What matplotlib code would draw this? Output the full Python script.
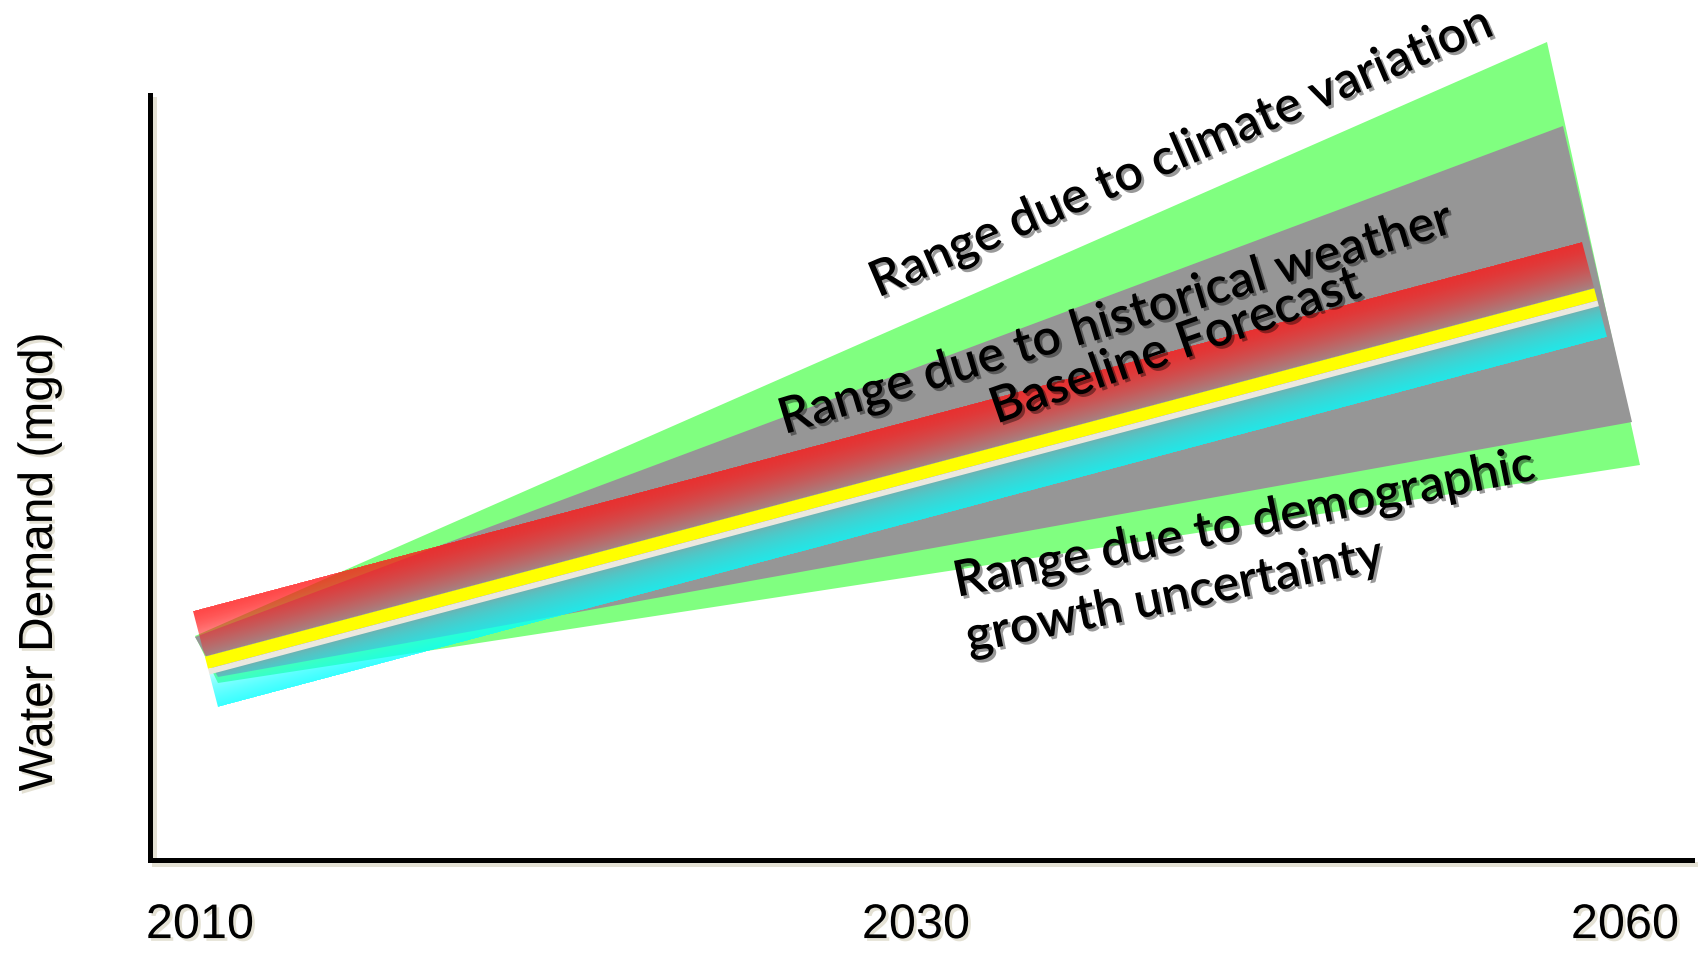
import numpy as np
import matplotlib
matplotlib.use("Agg")
import matplotlib.pyplot as plt
import matplotlib.patheffects as pe
from matplotlib.patches import Polygon

# Canvas units: one unit per output pixel, y grows downward.
TICK_POS = [200, 916, 1625]
TICK_LABELS = ["2010", "2030", "2060"]
Y_LABEL = "Water Demand (mgd)"

# climate variation fan (green): corners from top-left, clockwise
CLIMATE_X = [195, 1547, 1640, 218]
CLIMATE_Y = [636, 42, 465, 683]
# historical weather fan (gray)
WEATHER_X = [195, 1563, 1632, 218]
WEATHER_Y = [637, 126, 422, 677]

# baseline forecast band: upper edge, centre line, lower edge (start, end)
BAND_TOP_X = [193, 1582]
BAND_TOP_Y = [611, 242]
BASE_X = [207, 1595]
BASE_Y = [662, 294]
BAND_BOT_X = [218, 1607]
BAND_BOT_Y = [707, 337]

# annotations: text, anchor (baseline), angle, horizontal alignment
NOTE_TEXT = [
    "Range due to climate variation",
    "Range due to historical weather",
    "Baseline Forecast",
    "Range due to demographic",
    "growth uncertainty",
]
NOTE_X = [1187, 1120, 1180, 957, 969]
NOTE_Y = [166, 333, 360, 597, 653]
NOTE_ANGLE = [23.1, 16.8, 19.2, 11.5, 11.5]
NOTE_HA = ["center", "center", "center", "left", "left"]

GREEN = "#80ff80"
GRAY = "#969696"
YELLOW = "#ffff00"
LINE_WHITE = "#ebe8df"
SHADOW_LIGHT = "#e4e1d4"


def edge(xs, ys, x):
    slope = (ys[1] - ys[0]) / (xs[1] - xs[0])
    return ys[0] + slope * (x - xs[0])


W, H = 1698, 956
fig = plt.figure(figsize=(W / 100, H / 100), dpi=100)
x_left, x_right, y_bottom, y_top = 150, 1692, 860, 95
ax = fig.add_axes([x_left / W, (H - y_bottom) / H,
                   (x_right - x_left) / W, (y_bottom - y_top) / H])

# fans
ax.fill(CLIMATE_X, CLIMATE_Y, color=GREEN, lw=0, zorder=1, clip_on=False)
ax.fill(WEATHER_X, WEATHER_Y, color=GRAY, lw=0, zorder=2, clip_on=False)

# forecast band outline used for clipping
band = Polygon([(BAND_TOP_X[0], BAND_TOP_Y[0]), (BAND_TOP_X[1], BAND_TOP_Y[1]),
                (BAND_BOT_X[1], BAND_BOT_Y[1]), (BAND_BOT_X[0], BAND_BOT_Y[0])],
               closed=True, facecolor="none", edgecolor="none",
               transform=ax.transData)
ax.add_patch(band)

half = 6.5
white_w = 6
gx = np.arange(185, 1615) + 0.5
gy = np.arange(235, 715) + 0.5
GX, GY = np.meshgrid(gx, gy)
top = edge(BAND_TOP_X, BAND_TOP_Y, GX)
mid = edge(BASE_X, BASE_Y, GX)
bot = edge(BAND_BOT_X, BAND_BOT_Y, GX)

rgba = np.zeros(GX.shape + (4,))
red_t = (GY - top) / (mid - half - top)
in_red = (red_t >= 0) & (red_t <= 1)
rgba[in_red, 0] = 1.0
rgba[in_red, 1] = 0.08
rgba[in_red, 2] = 0.08
rgba[in_red, 3] = 0.78 - 0.62 * red_t[in_red] ** 1.5

cyan_start = mid + half + white_w
cyan_t = (GY - cyan_start) / (bot - cyan_start)
in_cyan = (cyan_t >= 0) & (cyan_t <= 1)
rgba[in_cyan, 0] = 0.0
rgba[in_cyan, 1] = 1.0
rgba[in_cyan, 2] = 1.0
rgba[in_cyan, 3] = 0.22 + 0.56 * cyan_t[in_cyan] ** 0.6

im = ax.imshow(rgba, extent=(gx[0] - 0.5, gx[-1] + 0.5, gy[-1] + 0.5, gy[0] - 0.5),
               origin="upper", interpolation="bilinear", aspect="auto", zorder=3)
im.set_clip_path(band)

xs = np.array([185, 1615])
base = edge(BASE_X, BASE_Y, xs)
yel = ax.fill_between(xs, base - half, base + half, color=YELLOW, lw=0, zorder=4)
yel.set_clip_path(band)
wl = ax.fill_between(xs, base + half, base + half + white_w, color=LINE_WHITE,
                     lw=0, zorder=4)
wl.set_clip_path(band)

# annotations
text_shadow = [pe.withSimplePatchShadow(offset=(2, -2), shadow_rgbFace="black",
                                        alpha=0.4)]
for txt, tx, ty, ang, ha in zip(NOTE_TEXT, NOTE_X, NOTE_Y, NOTE_ANGLE, NOTE_HA):
    ax.text(tx, ty, txt, rotation=ang, rotation_mode="anchor", ha=ha,
            va="baseline", fontsize=36, fontweight="semibold",
            family=["Lato", "DejaVu Sans"], color="black", zorder=6,
            clip_on=False, path_effects=text_shadow)

# axes
ax.set_xlim(x_left, x_right)
ax.set_ylim(y_bottom, y_top)
for side in ("top", "right"):
    ax.spines[side].set_visible(False)
for side in ("left", "bottom"):
    sp = ax.spines[side]
    sp.set_linewidth(3.6)
    sp.set_color("black")
    sp.set_capstyle("projecting")
    sp.set_path_effects([pe.SimpleLineShadow(offset=(3, -3), shadow_color=SHADOW_LIGHT,
                                             alpha=1.0, rho=1.0), pe.Normal()])

ax.set_yticks([])
ax.set_xticks(TICK_POS, TICK_LABELS)
ax.tick_params(axis="x", length=0, pad=31)
label_shadow = [pe.withSimplePatchShadow(offset=(2, -2), shadow_rgbFace=SHADOW_LIGHT,
                                         alpha=1.0)]
for lab in ax.get_xticklabels():
    lab.set_fontsize(35)
    lab.set_family(["Liberation Sans", "DejaVu Sans"])
    lab.set_path_effects(label_shadow)

ax.set_ylabel(Y_LABEL, fontsize=34.5, family=["Liberation Sans", "DejaVu Sans"],
              path_effects=label_shadow)
ax.yaxis.set_label_coords((62 - x_left) / (x_right - x_left),
                          (y_bottom - 562) / (y_bottom - y_top))

fig.savefig("out.png", dpi=100)
